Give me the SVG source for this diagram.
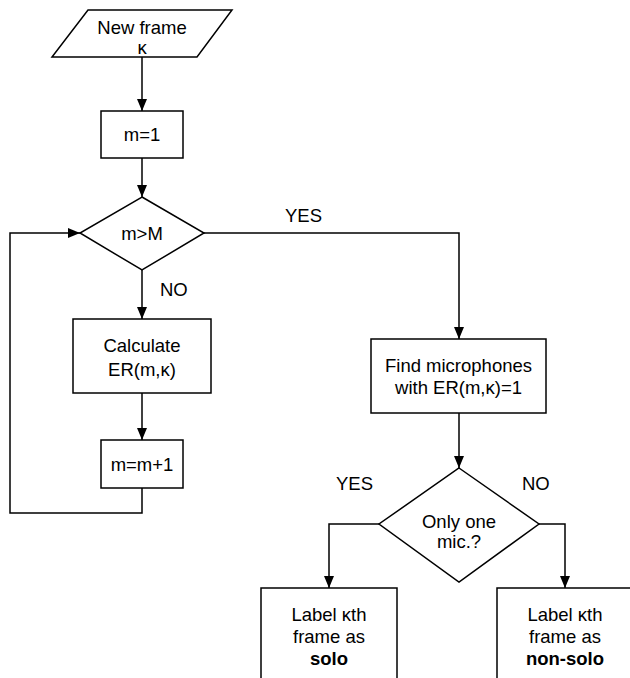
<svg xmlns="http://www.w3.org/2000/svg" width="630" height="678" viewBox="0 0 630 678">
<defs>
<style>
.s{fill:#fff;stroke:#000;stroke-width:1.5}
.c{fill:none;stroke:#000;stroke-width:1.5}
text{font-family:"Liberation Sans",Arial,sans-serif;font-size:18.5px;fill:#000}
.m{text-anchor:middle}
.b{font-weight:bold}
</style>
<marker id="ah" markerWidth="12" markerHeight="10" refX="12" refY="5" orient="auto" markerUnits="userSpaceOnUse">
<path d="M0,0 L12,5 L0,10 Z" fill="#000"/>
</marker>
</defs>
<rect width="630" height="678" fill="#fff"/>
<g id="connectors">
<line class="c" x1="142" y1="57" x2="142" y2="111" marker-end="url(#ah)"/>
<line class="c" x1="142" y1="158" x2="142" y2="197" marker-end="url(#ah)"/>
<line class="c" x1="142" y1="270" x2="142" y2="319" marker-end="url(#ah)"/>
<line class="c" x1="142" y1="393" x2="142" y2="440" marker-end="url(#ah)"/>
<polyline class="c" points="142,488 142,513 10,513 10,233 80,233" marker-end="url(#ah)"/>
<polyline class="c" points="204,233 459,233 459,339" marker-end="url(#ah)"/>
<line class="c" x1="459" y1="413" x2="459" y2="468" marker-end="url(#ah)"/>
<polyline class="c" points="379,524 329,524 329,588" marker-end="url(#ah)"/>
<polyline class="c" points="539,524 565,524 565,588" marker-end="url(#ah)"/>
<text x="285" y="222">YES</text>
<text x="160" y="296">NO</text>
<text x="336" y="490">YES</text>
<text x="522" y="490">NO</text>
</g>
<g id="new-frame">
<polygon class="s" points="88,10 232,10 197,57 52,57"/>
<text class="m" x="142" y="34">New frame</text>
<text class="m" x="142" y="54">κ</text>
</g>
<g id="init">
<rect class="s" x="101" y="111" width="82" height="47"/>
<text class="m" x="142" y="141">m=1</text>
</g>
<g id="test-m">
<polygon class="s" points="142,197 204,233 142,270 80,233"/>
<text class="m" x="142" y="240">m&gt;M</text>
</g>
<g id="calc">
<rect class="s" x="73" y="319" width="138" height="74"/>
<text class="m" x="142" y="352">Calculate</text>
<text class="m" x="142" y="376">ER(m,κ)</text>
</g>
<g id="incr">
<rect class="s" x="101" y="440" width="82" height="48"/>
<text class="m" x="142" y="471">m=m+1</text>
</g>
<g id="find">
<rect class="s" x="371" y="339" width="175" height="74"/>
<text class="m" x="458.5" y="372">Find microphones</text>
<text class="m" x="458.5" y="394">with ER(m,κ)=1</text>
</g>
<g id="only-one">
<polygon class="s" points="459,468 539,524 459,582 379,524"/>
<text class="m" x="459" y="528">Only one</text>
<text class="m" x="459" y="548">mic.?</text>
</g>
<g id="solo">
<rect class="s" x="261" y="588" width="136" height="100"/>
<text class="m" x="329" y="621">Label κth</text>
<text class="m" x="329" y="643">frame as</text>
<text class="m b" x="329" y="665">solo</text>
</g>
<g id="non-solo">
<rect class="s" x="497" y="588" width="136" height="100"/>
<text class="m" x="565" y="621">Label κth</text>
<text class="m" x="565" y="643">frame as</text>
<text class="m b" x="565" y="665">non-solo</text>
</g>
</svg>
